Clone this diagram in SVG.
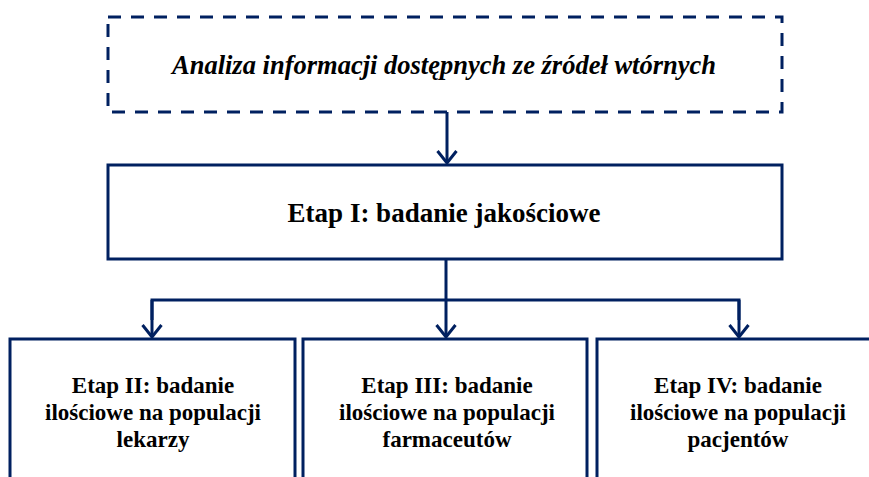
<svg xmlns="http://www.w3.org/2000/svg" width="869" height="477" viewBox="0 0 869 477">
  <defs>
    <marker id="arrow" viewBox="0 0 16 22" refX="14" refY="11" markerWidth="16" markerHeight="22" markerUnits="userSpaceOnUse" orient="auto">
      <path d="M2,1.5 L14,11 L2,20.5" fill="none" stroke="#002060" stroke-width="3"/>
    </marker>
    <style>
      .box { fill: #ffffff; stroke: #002060; stroke-width: 3; }
      .dash { fill: #ffffff; stroke: #002060; stroke-width: 3; stroke-dasharray: 13 10; }
      .line { fill: none; stroke: #002060; stroke-width: 3; }
      .t { font-family: "Liberation Serif", "Times New Roman", serif; font-weight: bold; fill: #000000; text-anchor: middle; }
      .it { font-style: italic; font-size: 26.5px; }
      .main { font-size: 27px; }
      .sub { font-size: 23px; }
    </style>
  </defs>

  <!-- connectors -->
  <g id="connectors">
    <line class="line" x1="447" y1="112" x2="447" y2="163" marker-end="url(#arrow)"/>
    <line class="line" x1="446" y1="259" x2="446" y2="300"/>
    <polyline class="line" points="152,320 152,300 739,300 739,320"/>
    <line class="line" x1="152" y1="300" x2="152" y2="337" marker-end="url(#arrow)"/>
    <line class="line" x1="446" y1="300" x2="446" y2="337" marker-end="url(#arrow)"/>
    <line class="line" x1="739" y1="300" x2="739" y2="337" marker-end="url(#arrow)"/>
  </g>

  <g id="node-analiza">
    <rect class="dash" x="108" y="17" width="674" height="95"/>
    <text class="t it" x="444" y="74">Analiza informacji dostępnych ze źródeł wtórnych</text>
  </g>

  <g id="node-etap1">
    <rect class="box" x="108" y="165" width="674" height="94"/>
    <text class="t main" x="444" y="222">Etap I: badanie jakościowe</text>
  </g>

  <g id="node-etap2">
    <rect class="box" x="10" y="339" width="285" height="160"/>
    <text class="t sub" x="153" y="393">Etap II: badanie</text>
    <text class="t sub" x="153" y="420">ilościowe na populacji</text>
    <text class="t sub" x="153" y="447">lekarzy</text>
  </g>

  <g id="node-etap3">
    <rect class="box" x="303" y="339" width="284" height="160"/>
    <text class="t sub" x="447" y="393">Etap III: badanie</text>
    <text class="t sub" x="447" y="420">ilościowe na populacji</text>
    <text class="t sub" x="447" y="447">farmaceutów</text>
  </g>

  <g id="node-etap4">
    <rect class="box" x="597" y="339" width="300" height="160"/>
    <text class="t sub" x="738" y="393">Etap IV: badanie</text>
    <text class="t sub" x="738" y="420">ilościowe na populacji</text>
    <text class="t sub" x="738" y="447">pacjentów</text>
  </g>
</svg>
